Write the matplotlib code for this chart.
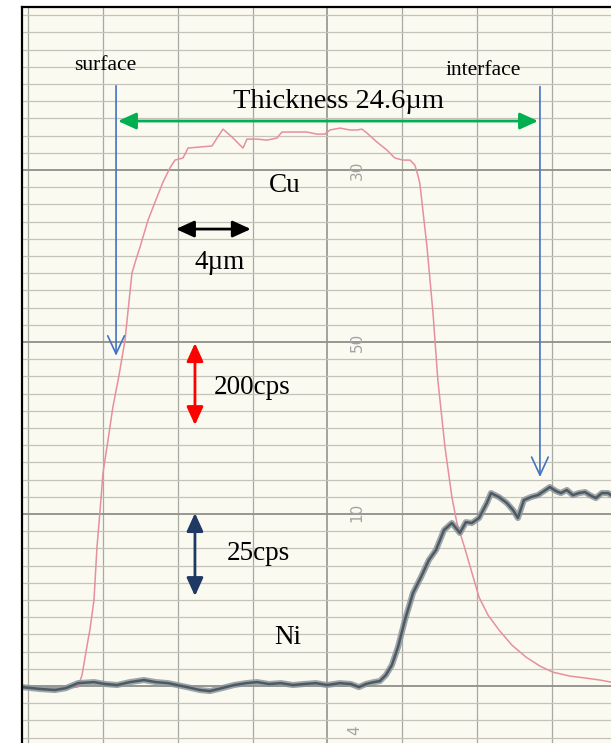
#!/usr/bin/env python3
"""
GDOES-style depth profile of a Cu coating on Ni, redrawn from a chart-recorder scan.
x axis: depth in um (one vertical grid step = 4 um), y axis: recorder divisions.
"""

import numpy as np
import matplotlib.pyplot as plt

# Cu trace (thin pink pen): depth [um], signal [chart divisions]
CU_X = [-4.33, -2.30, -1.34, -1.12, -0.80, -0.70, -0.48, -0.32, -0.11, 0.00,
        0.27, 0.53, 0.86, 1.18, 1.55, 1.76, 1.98, 2.41, 2.83, 3.21,
        3.58, 3.85, 4.28, 4.55, 5.19, 5.83, 6.10, 6.42, 6.90, 7.33,
        7.49, 7.70, 8.24, 8.77, 9.30, 9.57, 10.16, 10.91, 11.44, 11.87,
        12.14, 12.67, 13.21, 13.58, 13.85, 14.12, 14.65, 15.19, 15.61, 16.04,
        16.42, 16.68, 16.84, 16.95, 17.33, 17.65, 17.91, 18.29, 18.66, 18.93,
        19.30, 19.73, 20.11, 20.59, 21.18, 21.87, 22.62, 23.37,
        24.06, 24.97, 25.78, 26.58, 27.17]
CU_Y = [-0.12, -0.12, -0.06, 0.64, 2.67, 3.26, 5.00, 8.08, 10.81, 12.38,
        14.30, 16.22, 18.08, 20.12, 24.01, 24.77, 25.52, 27.09, 28.26, 29.30,
        30.12, 30.58, 30.70, 31.28, 31.34, 31.40, 31.86, 32.38, 31.92, 31.45,
        31.28, 31.80, 31.80, 31.74, 31.86, 32.21, 32.21, 32.21, 32.09, 32.09,
        32.33, 32.44, 32.33, 32.33, 32.38, 32.15, 31.63, 31.16, 30.70, 30.58,
        30.58, 30.29, 29.71, 29.20, 25.52, 21.69, 17.79, 13.90, 10.99, 9.48,
        8.20, 6.60, 5.17, 4.13, 3.26, 2.38, 1.69, 1.16,
        0.81, 0.58, 0.47, 0.35, 0.23]

# Ni trace (thick grey pen)
NI_X = [-4.33, -3.37, -2.57, -1.98, -1.34, -0.48, 0.11, 0.75, 1.44, 2.19,
        2.83, 3.48, 4.49, 5.19, 5.72, 6.36, 7.01, 7.65, 8.24, 8.88,
        9.52, 10.16, 10.75, 11.39, 11.98, 12.67, 13.26, 13.69, 14.06, 14.49,
        14.81, 15.13, 15.45, 15.78, 16.15, 16.58, 17.01, 17.43, 17.81, 18.24,
        18.66, 19.09, 19.41, 19.73, 20.11, 20.53, 20.75, 21.18, 21.60, 21.93,
        22.19, 22.51, 22.89, 23.26, 23.90, 24.22, 24.49, 24.81, 25.13, 25.45,
        25.78, 26.04, 26.36, 26.68, 27.01, 27.17]
NI_Y = [-0.06, -0.17, -0.23, -0.12, 0.17, 0.23, 0.12, 0.06, 0.23, 0.35,
        0.23, 0.17, -0.06, -0.23, -0.29, -0.12, 0.06, 0.17, 0.23, 0.12,
        0.17, 0.06, 0.12, 0.17, 0.06, 0.17, 0.12, -0.06, 0.12, 0.23,
        0.29, 0.64, 1.22, 2.27, 3.84, 5.41, 6.34, 7.33, 7.91, 9.07,
        9.48, 8.90, 9.53, 9.48, 9.77, 10.64, 11.22, 10.99, 10.64, 10.23,
        9.77, 10.81, 10.99, 11.10, 11.57, 11.34, 11.22, 11.40, 11.10, 11.22,
        11.28, 11.10, 10.93, 11.22, 11.22, 11.10]

# printed recorder scale numbers: (depth, division, text)
SCALE_X = [13.6, 13.6, 13.6, 13.45]
SCALE_Y = [30.0, 20.0, 10.1, -2.55]
SCALE_TXT = ["30", "50", "10", "4"]

SURFACE_UM = 0.70
INTERFACE_UM = 23.37

PAPER = "#fbfaf1"
C_CU = "#e5909c"
C_NI_HALO = "#8d979d"
C_NI = "#4e5a62"
C_BLUE = "#4472c4"
C_GREEN = "#00b050"
C_NAVY = "#1f3864"
SERIF = "Liberation Serif"

fig = plt.figure(figsize=(6.11, 7.43), dpi=100)
ax = fig.add_axes([22/611, 0, 589/611, 736/743])
ax.set_facecolor(PAPER)
ax.set_xlim(-4.33, 27.17)
ax.set_ylim(-3.31, 39.48)

# chart paper grid
ax.set_xticks([12])
ax.set_xticks(np.arange(-4, 28, 4), minor=True)
ax.set_yticks([0, 10, 20, 30])
ax.set_yticks(np.arange(-3, 40, 1), minor=True)
ax.grid(axis="x", which="minor", color="#a9a9a4", lw=0.9)
ax.grid(axis="x", which="major", color="#8c8c88", lw=1.1)
ax.grid(axis="y", which="minor", color="#c3c3bc", lw=0.9)
ax.grid(axis="y", which="major", color="#8f8f8b", lw=1.3)
ax.tick_params(which="both", length=0, labelbottom=False, labelleft=False)
ax.set_axisbelow(True)
for side in ("right", "bottom"):
    ax.spines[side].set_visible(False)
for side in ("left", "top"):
    ax.spines[side].set_linewidth(1.6)

for sx, sy, st in zip(SCALE_X, SCALE_Y, SCALE_TXT):
    ax.text(sx, sy, st, rotation=90, ha="center", va="center",
            fontsize=11, color="#a3a3a3")

# pen traces
ax.plot(CU_X, CU_Y, color=C_CU, lw=1.1)
ax.plot(NI_X, NI_Y, color=C_NI_HALO, lw=4.4, solid_capstyle="round", alpha=0.85)
ax.plot(NI_X, NI_Y, color=C_NI, lw=1.8)

# surface / interface markers
ax.text(SURFACE_UM - 0.6, 36.05, "surface", ha="center", va="center",
        fontsize=15.5, family=SERIF)
ax.text(INTERFACE_UM - 3.05, 35.8, "interface", ha="center", va="center",
        fontsize=15.5, family=SERIF)
open_head = dict(arrowstyle="->,head_length=0.65,head_width=0.3",
                 mutation_scale=20, color=C_BLUE, lw=1.2, shrinkA=0, shrinkB=0)
ax.annotate("", xy=(SURFACE_UM, 19.2), xytext=(SURFACE_UM, 34.9),
            arrowprops=open_head)
ax.annotate("", xy=(INTERFACE_UM, 12.15), xytext=(INTERFACE_UM, 34.85),
            arrowprops=open_head)

def double_arrow(p0, p1, color, lw=2.0):
    ax.annotate("", xy=p1, xytext=p0,
                arrowprops=dict(arrowstyle="<|-|>,head_length=0.55,head_width=0.25",
                                mutation_scale=20, color=color, lw=lw,
                                shrinkA=0, shrinkB=0))

double_arrow((SURFACE_UM + 0.1, 32.85), (INTERFACE_UM - 0.1, 32.85), C_GREEN)
ax.text(12.6, 34.0, "Thickness 24.6\u00b5m", ha="center", va="center",
        fontsize=20.5, family=SERIF)

ax.text(9.73, 29.1, "Cu", ha="center", va="center", fontsize=19.5, family=SERIF)
double_arrow((3.9, 26.57), (7.91, 26.57), "black")
ax.text(6.26, 24.65, "4\u00b5m", ha="center", va="center", fontsize=19.5, family=SERIF)

double_arrow((4.92, 19.94), (4.92, 15.17), "red")
ax.text(5.95, 17.33, "200cps", ha="left", va="center", fontsize=19.5, family=SERIF)

double_arrow((4.92, 10.06), (4.92, 5.23), C_NAVY)
ax.text(6.63, 7.73, "25cps", ha="left", va="center", fontsize=19.5, family=SERIF)

ax.text(9.89, 2.85, "Ni", ha="center", va="center", fontsize=19.5, family=SERIF)

fig.savefig("out.png", dpi=100, facecolor="white")
